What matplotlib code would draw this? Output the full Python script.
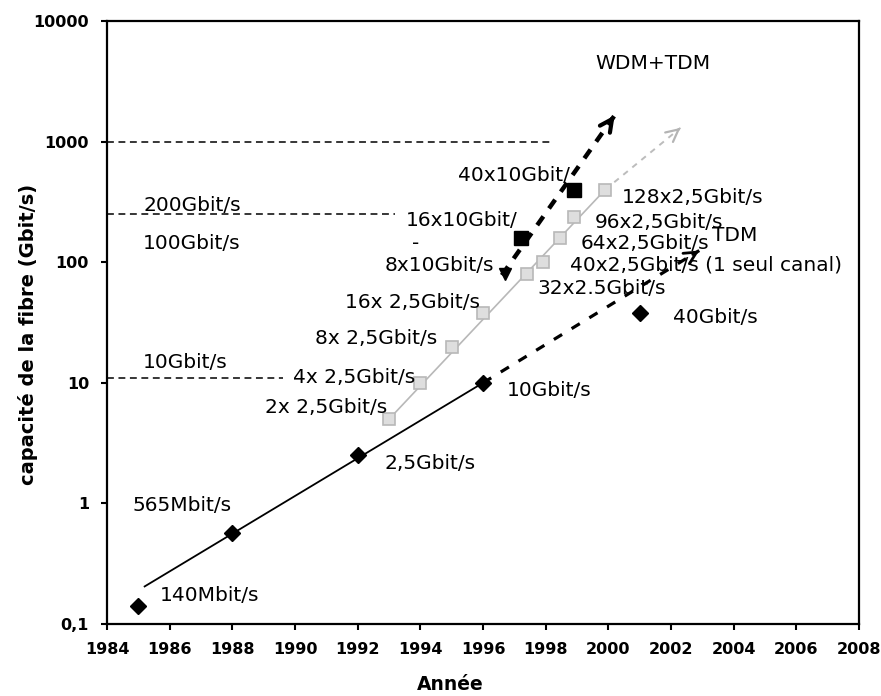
import numpy as np
import matplotlib.pyplot as plt

# valeurs : année / capacité (Gbit/s)
tdm_years = [1985, 1988, 1992, 1996, 2001]
tdm_capa = [0.14, 0.565, 2.5, 10, 38]

wdm25_years = [1993, 1994, 1995, 1996, 1997.4, 1997.9, 1998.45, 1998.9, 1999.9]
wdm25_capa = [5, 10, 20, 38, 80, 100, 158, 235, 400]

wdm10_years = [1996.7, 1997.2, 1998.9]
wdm10_capa = [80, 160, 400]

# tendances (debut, [milieu], pointe de la fleche)
tdm_trend_years = [1985.2, 1996, 2002.9]
tdm_trend_capa = [0.205, 10, 125]
wdm25_trend_years = [1993, 1999.9, 2002.3]
wdm25_trend_capa = [5, 400, 1300]
wdm10_trend_years = [1996.6, 2000.2]
wdm10_trend_capa = [78, 1650]

# niveaux de reference en pointilles
ref_levels = [1000, 250, 11]
ref_ends = [1998.2, 1993.2, 1989.6]

x_ticks = list(range(1984, 2009, 2))
y_ticks = [0.1, 1, 10, 100, 1000, 10000]
y_ticklabels = ['0,1', '1', '10', '100', '1000', '10000']

# etiquettes : texte, annee, capacite
labels = [
    ('200Gbit/s', 1985.15, 296),
    ('100Gbit/s', 1985.15, 143),
    ('10Gbit/s', 1985.15, 14.8),
    ('WDM+TDM', 1999.58, 4450),
    ('40x10Gbit/', 1995.2, 525),
    ('16x10Gbit/', 1993.54, 222),
    ('-', 1993.73, 143),
    ('8x10Gbit/s', 1992.87, 94),
    ('16x 2,5Gbit/s', 1991.6, 46.4),
    ('8x 2,5Gbit/s', 1990.64, 23.4),
    ('4x 2,5Gbit/s', 1989.94, 11.1),
    ('2x 2,5Gbit/s', 1989.04, 6.25),
    ('2,5Gbit/s', 1992.87, 2.15),
    ('10Gbit/s', 1996.77, 8.65),
    ('565Mbit/s', 1984.8, 0.962),
    ('140Mbit/s', 1985.69, 0.173),
    ('128x2,5Gbit/s', 2000.44, 345),
    ('96x2,5Gbit/s', 1999.58, 214),
    ('TDM', 2003.31, 167),
    ('64x2,5Gbit/s', 1999.1, 143),
    ('40x2,5Gbit/s (1 seul canal)', 1998.78, 94),
    ('32x2.5Gbit/s', 1997.72, 60.6),
    ('40Gbit/s', 2002.07, 34.9),
]

plt.rcParams['font.family'] = 'DejaVu Sans'

fig = plt.figure(figsize=(8.81, 6.96), dpi=100)
ax = fig.add_axes([0.1215, 0.1034, 0.8536, 0.8664])
ax.set_yscale('log')
ax.set_xlim(1984, 2008)
ax.set_ylim(0.1, 10000)


def arrow_head(ax, xs, ys, color, lw):
    # petite fleche a la pointe d'une tendance (interpolation en log)
    x0 = xs[-1] - 0.03 * (xs[-1] - xs[-2])
    y0 = 10 ** (np.log10(ys[-1]) - 0.03 * (np.log10(ys[-1]) - np.log10(ys[-2])))
    ax.annotate('', xy=(xs[-1], ys[-1]), xytext=(x0, y0),
                arrowprops=dict(arrowstyle='->', color=color, lw=lw,
                                mutation_scale=22, shrinkA=0, shrinkB=0))


# niveaux de reference
for lev, end in zip(ref_levels, ref_ends):
    ax.plot([1984, end], [lev, lev], color='black', lw=1.1, dashes=(4.5, 3))

# tendance TDM
ax.plot(tdm_trend_years[:2], tdm_trend_capa[:2], color='black', lw=1.3)
ax.plot(tdm_trend_years[1:], tdm_trend_capa[1:], color='black', lw=2.3, dashes=(3, 3.5))
arrow_head(ax, tdm_trend_years, tdm_trend_capa, 'black', 2.0)

# tendance WDM 2,5G
ax.plot(wdm25_trend_years[:2], wdm25_trend_capa[:2], color='#b8b8b8', lw=1.2)
ax.plot(wdm25_trend_years[1:], wdm25_trend_capa[1:], color='#bcbcbc', lw=1.4, dashes=(3, 3))
arrow_head(ax, wdm25_trend_years, wdm25_trend_capa, '#b4b4b4', 1.6)

# tendance WDM 10G
ax.plot(wdm10_trend_years, wdm10_trend_capa, color='black', lw=3.2, dashes=(2.4, 2.2))
arrow_head(ax, wdm10_trend_years, wdm10_trend_capa, 'black', 3.0)

# points
ax.plot(tdm_years, tdm_capa, 'D', color='black', markersize=8.5, zorder=5)
ax.plot(wdm25_years, wdm25_capa, 's', markerfacecolor='#dedede',
        markeredgecolor='#b8b8b8', markeredgewidth=1.2, markersize=9, zorder=5)
ax.plot(wdm10_years[:1], wdm10_capa[:1], 'v', color='black', markersize=9, zorder=5)
ax.plot(wdm10_years[1:], wdm10_capa[1:], 's', color='black', markersize=10.5, zorder=5)

for txt, xv, yv in labels:
    ax.text(xv, yv, txt, fontsize=14.5, ha='left', va='center', color='black', zorder=6)

# axes
ax.set_xticks(x_ticks)
ax.set_xticklabels([str(v) for v in x_ticks])
ax.set_yticks(y_ticks)
ax.set_yticklabels(y_ticklabels)
ax.yaxis.set_minor_locator(plt.NullLocator())
ax.tick_params(axis='both', which='major', direction='out', length=4, width=1.5,
               labelsize=11.5)
ax.tick_params(axis='x', pad=9)
ax.tick_params(axis='y', pad=9)
for lab in ax.get_xticklabels() + ax.get_yticklabels():
    lab.set_fontweight('bold')
for sp in ax.spines.values():
    sp.set_linewidth(1.6)

ax.text(0.457, -0.101, 'Année', transform=ax.transAxes, ha='center', va='center',
        fontsize=13.5, fontweight='bold')
ax.text(-0.105, 0.481, 'capacité de la fibre (Gbit/s)', transform=ax.transAxes,
        ha='center', va='center', rotation=90, fontsize=14, fontweight='bold')

fig.savefig('out.png', dpi=100)
